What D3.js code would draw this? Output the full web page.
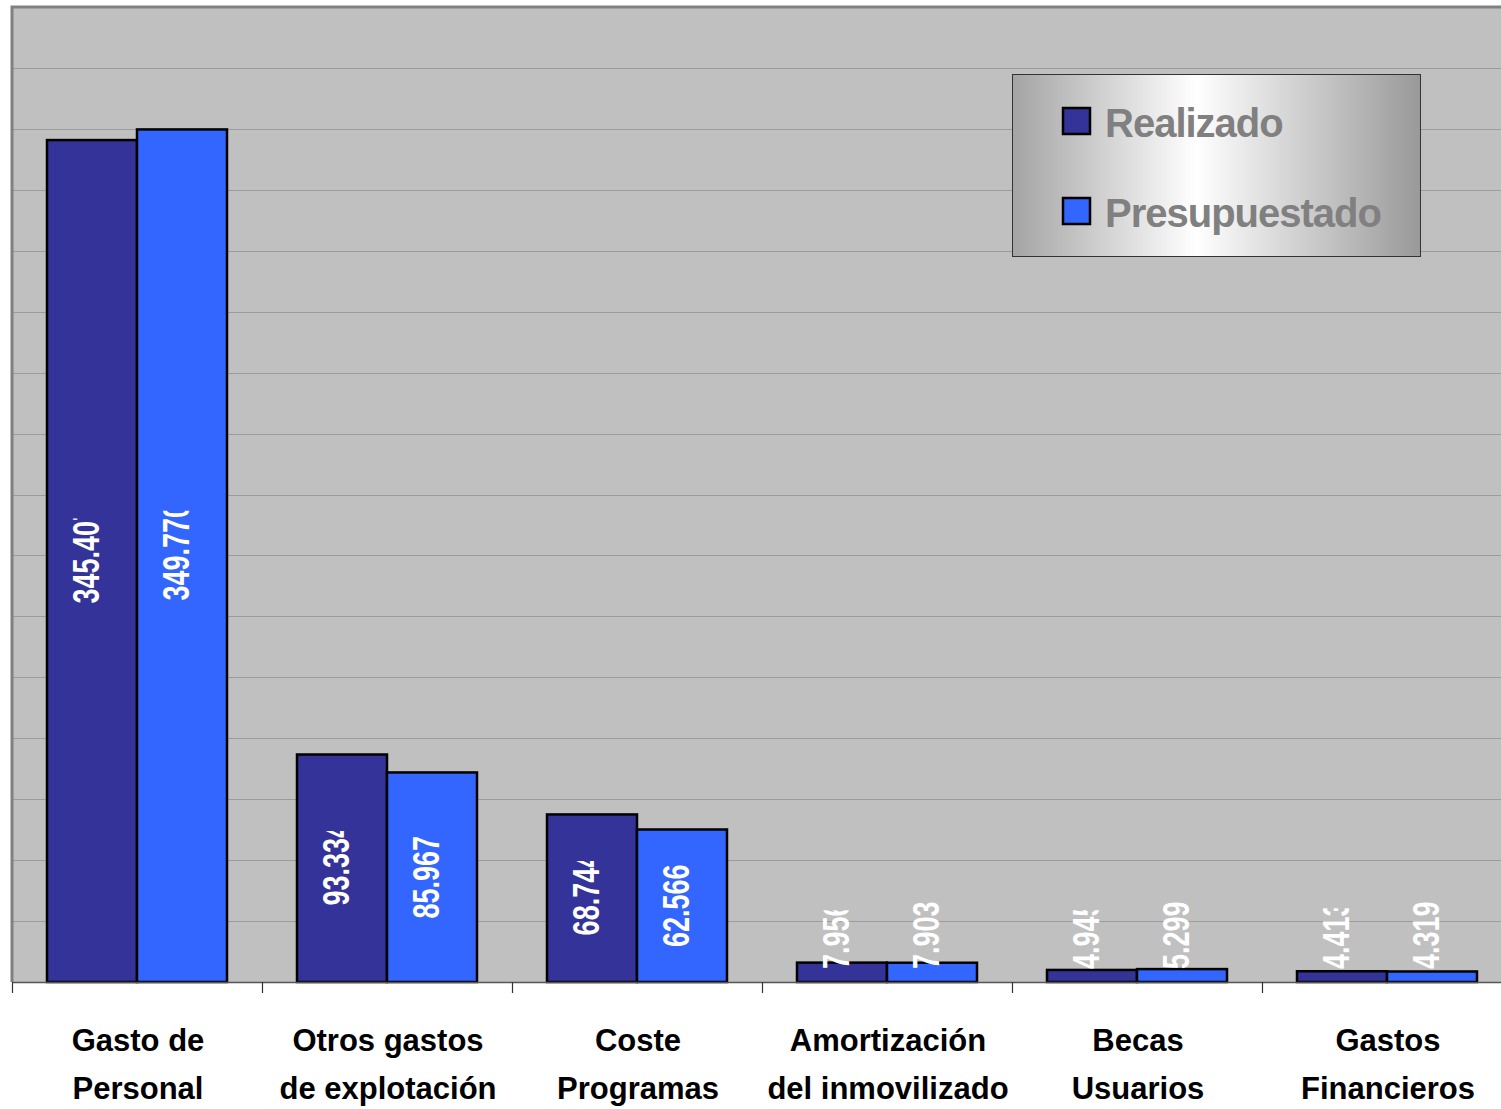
<!DOCTYPE html>
<html>
<head>
<meta charset="utf-8">
<script src="https://cdn.jsdelivr.net/npm/d3@7"></script>
<style>
  html, body { margin: 0; padding: 0; background: #ffffff; }
  svg { display: block; }
</style>
</head>
<body>
<svg id="chart" width="1501" height="1109"></svg>
<script>
// ---- data ----
const categories = [
  ["Gasto de", "Personal"],
  ["Otros gastos", "de explotación"],
  ["Coste", "Programas"],
  ["Amortización", "del inmovilizado"],
  ["Becas", "Usuarios"],
  ["Gastos", "Financieros"]
];
const seriesNames = ["Realizado", "Presupuestado"];
const realizado = [345407, 93334, 68744, 7956, 4945, 4413];
const presupuestado = [349770, 85967, 62566, 7903, 5299, 4319];
const realizadoLabels = ["345.407", "93.334", "68.744", "7.956", "4.945", "4.413"];
const presupuestadoLabels = ["349.770", "85.967", "62.566", "7.903", "5.299", "4.319"];
const yTicks = [0, 25000, 50000, 75000, 100000, 125000, 150000, 175000, 200000,
                225000, 250000, 275000, 300000, 325000, 350000, 375000, 400000];
// fraction of each value label left visible (labels are cut in the original)
const realizadoClip = [0.87, 0.9, 0.9, 0.87, 0.87, 0.9];
const presupuestadoClip = [0.92, 1, 1, 1, 1, 1];

const colors = { "Realizado": "#333399", "Presupuestado": "#3366FF" };

const svg = d3.select("#chart");
const plotLeft = 12, plotTop = 7, plotBottom = 982, band = 250;

const catKeys = categories.map(c => c.join(" "));
const x = d3.scaleBand().domain(catKeys).range([plotLeft, plotLeft + band * catKeys.length]).padding(0);
const xs = d3.scaleBand().domain(seriesNames).range([35, 215]).padding(0);
const y = d3.scaleLinear().domain([0, 400000]).range([plotBottom, plotTop]);

const defs = svg.append("defs");

// plot background
svg.append("rect").attr("x", plotLeft).attr("y", plotTop)
  .attr("width", 1501 - plotLeft + 10).attr("height", plotBottom - plotTop)
  .attr("fill", "#C0C0C0");

// gridlines
svg.append("g").selectAll("line").data(yTicks.filter(t => t > 0 && t < 400000)).join("line")
  .attr("x1", plotLeft).attr("x2", 1501)
  .attr("y1", d => Math.round(y(d)) + 0.5).attr("y2", d => Math.round(y(d)) + 0.5)
  .attr("stroke", "#9c9c9c").attr("stroke-width", 1);

// plot border (top & left)
svg.append("path")
  .attr("d", `M${plotLeft},${plotBottom} L${plotLeft},${plotTop} L1501,${plotTop}`)
  .attr("fill", "none").attr("stroke", "#808080").attr("stroke-width", 3);

// data table
const rows = catKeys.map((k, i) => ({
  key: k,
  vals: [
    { s: "Realizado", v: realizado[i], label: realizadoLabels[i], clip: realizadoClip[i] },
    { s: "Presupuestado", v: presupuestado[i], label: presupuestadoLabels[i], clip: presupuestadoClip[i] }
  ]
}));

// bars
const groups = svg.append("g").selectAll("g").data(rows).join("g")
  .attr("transform", d => `translate(${x(d.key)},0)`);
groups.selectAll("rect").data(d => d.vals).join("rect")
  .attr("x", d => xs(d.s))
  .attr("y", d => y(d.v))
  .attr("width", xs.bandwidth())
  .attr("height", d => plotBottom - y(d.v))
  .attr("fill", d => colors[d.s])
  .attr("stroke", "#000").attr("stroke-width", 2.5);

// axis line & ticks
svg.append("line").attr("x1", plotLeft).attr("x2", 1501).attr("y1", plotBottom + 0.5).attr("y2", plotBottom + 0.5)
  .attr("stroke", "#555").attr("stroke-width", 1.5);
svg.append("g").selectAll("line").data(catKeys).join("line")
  .attr("x1", d => x(d) + 0.5).attr("x2", d => x(d) + 0.5)
  .attr("y1", plotBottom).attr("y2", plotBottom + 11)
  .attr("stroke", "#333").attr("stroke-width", 1.2);

// value labels (rotated, white, condensed)
const sx = 0.75;
let clipId = 0;
rows.forEach(r => {
  r.vals.forEach(d => {
    const cx = x(r.key) + xs(d.s) + xs.bandwidth() / 2 - 6;
    const g = svg.append("g");
    const t = g.append("text")
      .attr("x", 0).attr("y", 0).attr("dy", "0.36em")
      .attr("font-family", "'Liberation Sans', Arial, sans-serif")
      .attr("font-weight", "bold").attr("font-size", 36)
      .attr("fill", "#ffffff")
      .text(d.label);
    const full = t.node().getComputedTextLength();
    const vis = full * sx * d.clip;
    const mid = (y(d.v) + plotBottom) / 2;
    const startY = Math.min(mid + vis / 2, plotBottom - 13);
    const id = "lc" + (clipId++);
    defs.append("clipPath").attr("id", id).attr("clipPathUnits", "userSpaceOnUse")
      .append("rect").attr("x", -2).attr("y", -40).attr("width", full * d.clip + 2).attr("height", 80);
    t.attr("transform", `translate(${cx},${startY}) rotate(-90) scale(${sx},1)`)
      .attr("clip-path", `url(#${id})`);
  });
});

// category labels
const lab = svg.append("g").selectAll("text").data(categories).join("text")
  .attr("x", (d, i) => x(catKeys[i]) + band / 2 + 1)
  .attr("y", 1051)
  .attr("text-anchor", "middle")
  .attr("font-family", "'Liberation Sans', Arial, sans-serif")
  .attr("font-weight", "bold").attr("font-size", 31)
  .attr("fill", "#000");
lab.each(function (d) {
  const el = d3.select(this);
  d.forEach((line, j) => {
    el.append("tspan").attr("x", el.attr("x")).attr("dy", j === 0 ? 0 : 48).text(line);
  });
});

// legend
const grad = defs.append("linearGradient").attr("id", "legGrad")
  .attr("x1", "0%").attr("x2", "100%").attr("y1", "0%").attr("y2", "0%");
grad.append("stop").attr("offset", "0%").attr("stop-color", "#a4a4a4");
grad.append("stop").attr("offset", "45%").attr("stop-color", "#ffffff");
grad.append("stop").attr("offset", "100%").attr("stop-color", "#999999");

const lg = svg.append("g");
lg.append("rect").attr("x", 1012.5).attr("y", 74.5).attr("width", 408).attr("height", 182)
  .attr("fill", "url(#legGrad)").attr("stroke", "#333").attr("stroke-width", 1);
seriesNames.forEach((s, i) => {
  const yy = 108 + i * 90;
  lg.append("rect").attr("x", 1063).attr("y", yy).attr("width", 27).attr("height", 26)
    .attr("fill", colors[s]).attr("stroke", "#000").attr("stroke-width", 2.5);
  lg.append("text").attr("x", 1105).attr("y", yy + 29)
    .attr("font-family", "'Liberation Sans', Arial, sans-serif")
    .attr("font-weight", "bold").attr("font-size", 40)
    .attr("letter-spacing", -1)
    .attr("fill", "#808080").text(s);
});
</script>
</body>
</html>
